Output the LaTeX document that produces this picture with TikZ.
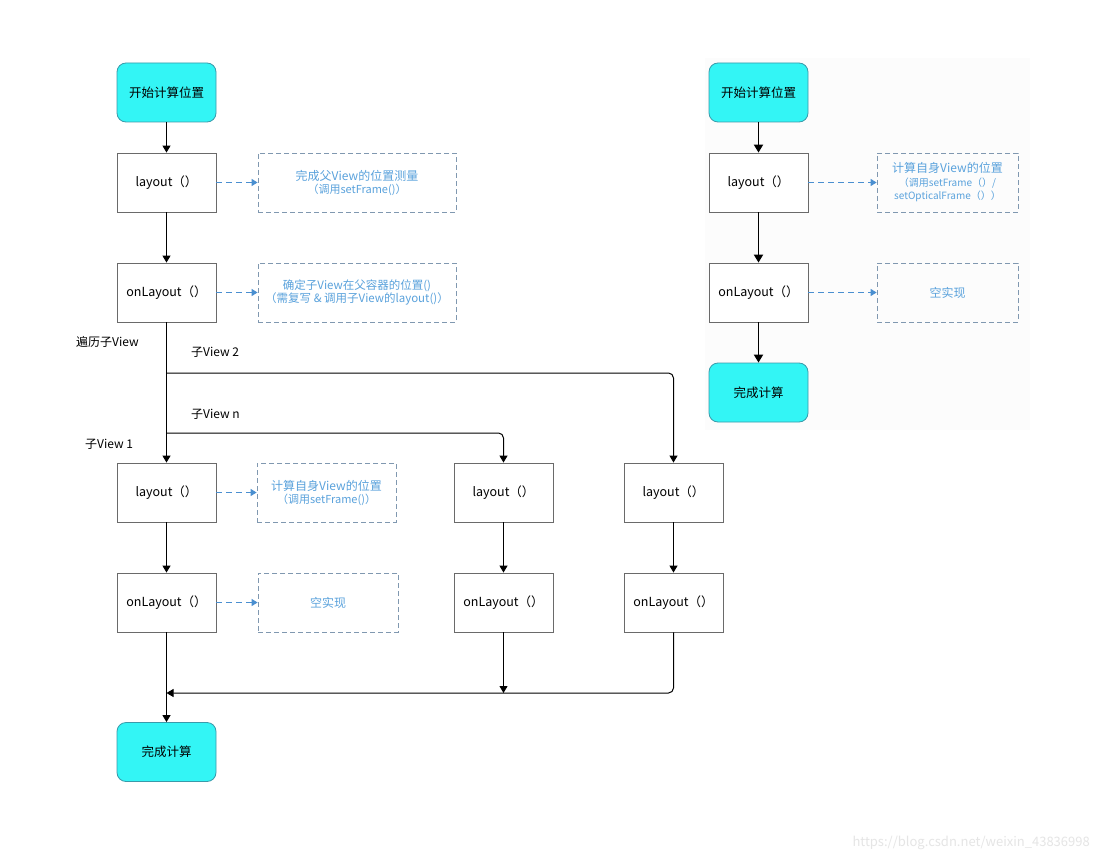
\documentclass[tikz,border=0pt]{standalone}
\usepackage{fontspec}
\setmainfont{Noto Sans CJK SC}
\usetikzlibrary{arrows.meta}
\definecolor{cyanfill}{HTML}{33F5F5}
\definecolor{cyanline}{HTML}{3A9AAA}
\definecolor{boxline}{HTML}{6A6A6A}
\definecolor{dashline}{HTML}{8098B0}
\definecolor{bluetxt}{HTML}{5AA2DC}
\definecolor{bluearr}{HTML}{4A8FD0}
\tikzset{
  x=1pt,y=-1pt,
  every node/.style={font=\fontsize{12.5}{14}\selectfont, inner sep=2pt},
  proc/.style={draw=boxline, line width=0.8pt, fill=white, minimum width=99pt, minimum height=59pt, align=center},
  term/.style={draw=cyanline, line width=0.8pt, fill=cyanfill, rounded corners=9pt, minimum width=99pt, minimum height=59pt, align=center},
  note/.style={draw=dashline, dashed, dash pattern=on 5pt off 3pt, line width=0.8pt, minimum height=59pt, align=center, text=bluetxt, font=\fontsize{12}{15}\selectfont},
  arr/.style={draw=black, line width=1pt, -{Triangle[width=8pt,length=7pt]}},
  arrb/.style={draw=black, line width=1.8pt, -{Triangle[width=9pt,length=8pt]}},
  darr/.style={draw=bluearr, line width=1.2pt, dash pattern=on 6pt off 4pt, -{Triangle[width=7pt,length=6pt]}},
  lbl/.style={anchor=west, font=\fontsize{12}{14}\selectfont}
}
\begin{document}
\begin{tikzpicture}
\useasboundingbox[fill=white] (0,0) rectangle (1100,861);
\fill[black!1] (705,58) rectangle (1030,430);
% ---------- left main flow ----------
\node[term] (s1) at (166.5,92.5) {开始计算位置};
\node[proc] (l1) at (166.5,182.5) {layout（）};
\node[note, minimum width=198pt] (n1) at (357,182.5) {完成父View的位置测量\\[-2pt]{\fontsize{11}{13}\selectfont（调用setFrame()）}};
\node[proc] (o1) at (166.5,292.5) {onLayout（）};
\node[note, minimum width=198pt, font=\fontsize{11.5}{15}\selectfont] (n2) at (357,292.5) {确定子View在父容器的位置()\\[-2pt]（需复写 \& 调用子View的layout()）};
\draw[arr] (s1) -- (l1);
\draw[arr] (l1) -- (o1);
\draw[darr] (l1) -- (n1);
\draw[darr] (o1) -- (n2);
% ---------- children ----------
\node[proc] (cl1) at (166.5,492.5) {layout（）};
\node[note, minimum width=139pt] (cn1) at (326.5,492.5) {计算自身View的位置\\[-2pt]{\fontsize{11}{13}\selectfont（调用setFrame()）}};
\node[proc] (cl2) at (503.5,492.5) {layout（）};
\node[proc] (cl3) at (673.5,492.5) {layout（）};
\node[proc] (co1) at (166.5,602.5) {onLayout（）};
\node[note, minimum width=140pt] (cn2) at (328,602.5) {空实现};
\node[proc] (co2) at (503.5,602.5) {onLayout（）};
\node[proc] (co3) at (673.5,602.5) {onLayout（）};
\node[term] (f1) at (166.5,752) {完成计算};
\node[lbl] (t0) at (74,342) {遍历子View};
\node[lbl] (t2) at (189,352) {子View 2};
\node[lbl] (tn) at (189,414) {子View n};
\node[lbl] (t1) at (83,444) {子View 1};
\coordinate (j2) at (166.5,373);
\coordinate (jn) at (166.5,433);
\coordinate (m1) at (166.5,693);
\draw[arr] (o1) -- (cl1);
\draw[arr, rounded corners=5pt] (j2) -| (cl3.north);
\draw[arr, rounded corners=5pt] (jn) -| (cl2.north);
\draw[darr] (cl1) -- (cn1);
\draw[darr] (co1) -- (cn2);
\draw[arr] (cl1) -- (co1);
\draw[arr] (cl2) -- (co2);
\draw[arr] (cl3) -- (co3);
\draw[arr] (co1) -- (f1);
\draw[arr] (co2.south) -- (co2.south |- m1);
\draw[arr, rounded corners=5pt] (co3.south) |- (m1);
% ---------- right flow ----------
\node[term] (s2) at (758.5,92.5) {开始计算位置};
\node[proc] (l2) at (758.5,182.5) {layout（）};
\node[note, minimum width=141pt] (rn1) at (947.5,182.5) {计算自身View的位置\\[-1pt]{\fontsize{10}{12}\selectfont（调用setFrame（）/}\\[-2pt]{\fontsize{10}{12}\selectfont setOpticalFrame（））}};
\node[proc] (o2) at (758.5,292.5) {onLayout（）};
\node[note, minimum width=141pt] (rn2) at (947.5,292.5) {空实现};
\node[term] (f2) at (758.5,392.5) {完成计算};
\draw[arrb] (s2) -- (l2);
\draw[arrb] (l2) -- (o2);
\draw[arrb] (o2) -- (f2);
\draw[darr] (l2) -- (rn1);
\draw[darr] (o2) -- (rn2);
% watermark
\node[anchor=east, text=black!10, font=\fontsize{13}{15}\selectfont] (wm) at (1092,843) {https://blog.csdn.net/weixin\_43836998};
\end{tikzpicture}
\end{document}
